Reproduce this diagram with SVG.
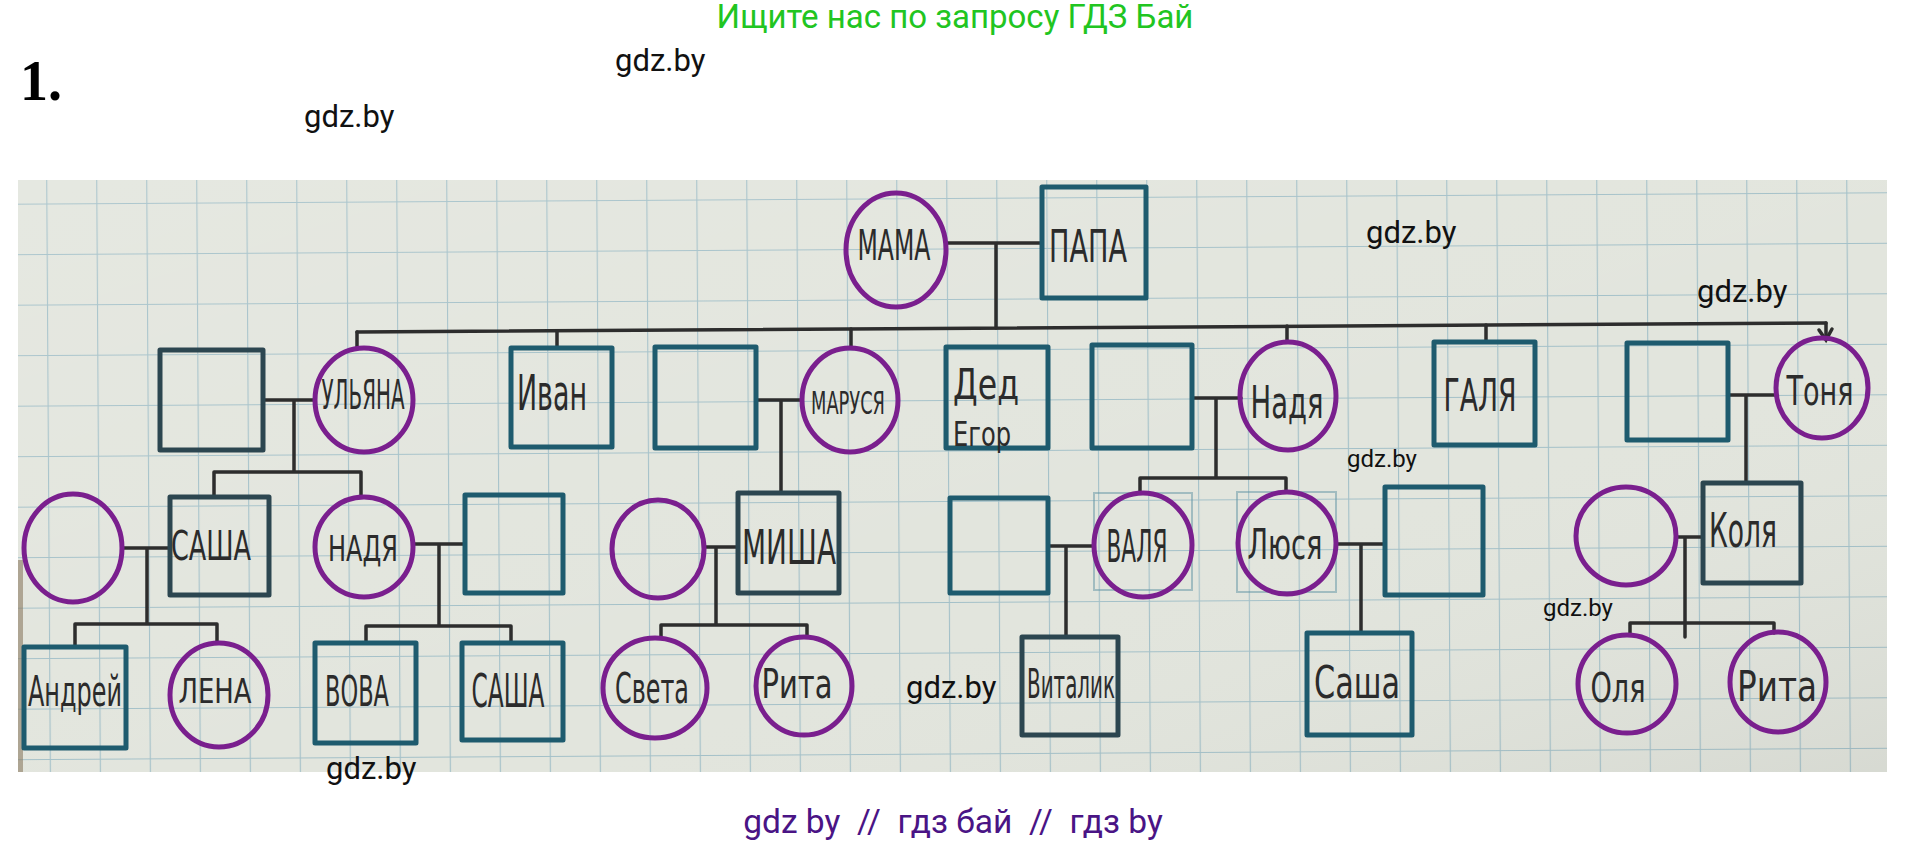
<svg xmlns="http://www.w3.org/2000/svg" width="1910" height="844" viewBox="0 0 1910 844">
<defs>
<pattern id="grid" x="48" y="198" width="50" height="50.5" patternUnits="userSpaceOnUse" patternTransform="rotate(-0.35 950 475)">
<rect width="50" height="50.5" fill="#e2e5dd"/>
<path d="M0 0V50.5M0 0H50" stroke="#a3c0c8" stroke-width="2.2" fill="none"/>
</pattern>
<linearGradient id="shade" x1="0" y1="0" x2="1" y2="1">
<stop offset="0" stop-color="#ffffff" stop-opacity="0.12"/>
<stop offset="0.6" stop-color="#ffffff" stop-opacity="0"/>
<stop offset="1" stop-color="#000000" stop-opacity="0.05"/>
</linearGradient>
</defs>
<style>
.sq{fill:none;stroke:#1e5b6e;stroke-width:5;stroke-linejoin:round}
.sqd{fill:none;stroke:#2c4650;stroke-width:5;stroke-linejoin:round}
.sqf{fill:none;stroke:#5f93a3;stroke-width:2;opacity:0.5}
.ci{fill:none;stroke:#7a1f8e;stroke-width:5}
.ln{fill:none;stroke:#2d2d2d;stroke-width:3.5;stroke-linecap:round}
.hw{font-family:"Liberation Sans Narrow","DejaVu Sans Condensed","Liberation Sans",sans-serif;fill:#2b2b2b;text-anchor:middle}
.wm{font-family:Roboto,"Liberation Sans",sans-serif;fill:#111111}
</style>
<rect width="1910" height="844" fill="#ffffff"/>
<text x="955" y="28" font-family="Roboto,'Liberation Sans',sans-serif" font-size="33" fill="#21c521" text-anchor="middle">Ищите нас по запросу ГДЗ Бай</text>
<text x="20" y="100" font-family="'Liberation Serif',serif" font-weight="bold" font-size="56" fill="#000">1.</text>
<text class="wm" x="615" y="71" font-size="31">gdz.by</text>
<text class="wm" x="304" y="127" font-size="31">gdz.by</text>

<g id="paper">
<rect x="18" y="180" width="1869" height="592" fill="url(#grid)"/>
<rect x="18" y="180" width="1869" height="592" fill="url(#shade)"/>
<rect x="18" y="560" width="5" height="212" fill="#8a7a60" opacity="0.6"/>
</g>

<g id="connectors">
<path class="ln" d="M946 243H1042M996 243V328"/>
<path class="ln" d="M357 332L1826 323"/>
<path class="ln" d="M357 332V349M557 331V348M851 329V348M1287 326V342M1486 325V342M1826 323V338"/>
<path class="ln" d="M1819 330L1826 340L1832 329" stroke-width="2.5"/>
<path class="ln" d="M263 400H315M294 400V472M214 472H361M214 472V497M361 472V497"/>
<path class="ln" d="M756 400H802M781 400V493"/>
<path class="ln" d="M1192 398H1241M1216 398V478M1140 478H1286M1140 478V493M1286 478V492"/>
<path class="ln" d="M1728 395H1777M1746 395V483"/>
<path class="ln" d="M122 548H170M147 548V624M75 624H217M75 624V647M217 624V643"/>
<path class="ln" d="M413 544H465M439 544V626M366 626H511M366 626V643M511 626V643"/>
<path class="ln" d="M704 547H738M716 547V625M661 625H807M661 625V638M807 625V637"/>
<path class="ln" d="M1048 546H1094M1066 546V637"/>
<path class="ln" d="M1336 544H1385M1361 544V633"/>
<path class="ln" d="M1676 537H1703M1685 537V637M1630 623H1774M1630 623V635M1774 623V633"/>
</g>

<g id="n-mama"><ellipse class="ci" cx="896" cy="250" rx="50" ry="57"/><text class="hw" x="894" y="260" font-size="42" textLength="73" lengthAdjust="spacingAndGlyphs">МАМА</text></g>
<g id="n-papa"><rect class="sq" x="1042" y="187" width="104" height="111"/><text class="hw" x="1088" y="262" font-size="44" textLength="78" lengthAdjust="spacingAndGlyphs">ПАПА</text></g>

<g id="n-husband-ulyana"><rect class="sqd" x="160" y="350" width="103" height="100"/></g>
<g id="n-ulyana"><ellipse class="ci" cx="364" cy="400" rx="49" ry="52"/><text class="hw" x="363" y="409" font-size="40" textLength="83" lengthAdjust="spacingAndGlyphs">УЛЬЯНА</text></g>
<g id="n-ivan"><rect class="sq" x="511" y="348" width="101" height="99"/><text class="hw" x="552" y="410" font-size="50" textLength="70" lengthAdjust="spacingAndGlyphs">Иван</text></g>
<g id="n-husband-marusya"><rect class="sq" x="655" y="347" width="101" height="101"/></g>
<g id="n-marusya"><ellipse class="ci" cx="850" cy="400" rx="48" ry="52"/><text class="hw" x="848" y="414" font-size="32" textLength="74" lengthAdjust="spacingAndGlyphs">МАРУСЯ</text></g>
<g id="n-ded-egor"><rect class="sq" x="946" y="347" width="102" height="101"/><text class="hw" x="986" y="399" font-size="42" textLength="66" lengthAdjust="spacingAndGlyphs">Дед</text><text class="hw" x="982" y="446" font-size="34" textLength="58" lengthAdjust="spacingAndGlyphs">Егор</text></g>
<g id="n-husband-nadya"><rect class="sq" x="1092" y="345" width="100" height="103"/></g>
<g id="n-nadya-top"><ellipse class="ci" cx="1288" cy="396" rx="48" ry="54"/><text class="hw" x="1287" y="418" font-size="44" textLength="73" lengthAdjust="spacingAndGlyphs">Надя</text></g>
<g id="n-galya"><rect class="sq" x="1434" y="342" width="101" height="103"/><text class="hw" x="1480" y="411" font-size="44" textLength="73" lengthAdjust="spacingAndGlyphs">ГАЛЯ</text></g>
<g id="n-husband-tonya"><rect class="sq" x="1627" y="343" width="101" height="97"/></g>
<g id="n-tonya"><ellipse class="ci" cx="1822" cy="388" rx="46" ry="50"/><text class="hw" x="1820" y="405" font-size="40" textLength="67" lengthAdjust="spacingAndGlyphs">Тоня</text></g>

<g id="n-wife-sasha"><ellipse class="ci" cx="73" cy="548" rx="49" ry="54"/></g>
<g id="n-sasha1"><rect class="sqd" x="170" y="497" width="99" height="98"/><text class="hw" x="211" y="560" font-size="40" textLength="80" lengthAdjust="spacingAndGlyphs">САША</text></g>
<g id="n-nadya2"><ellipse class="ci" cx="364" cy="547" rx="49" ry="50"/><text class="hw" x="363" y="561" font-size="36" textLength="70" lengthAdjust="spacingAndGlyphs">НАДЯ</text></g>
<g id="n-husband-nadya2"><rect class="sq" x="465" y="495" width="98" height="98"/></g>
<g id="n-wife-misha"><ellipse class="ci" cx="658" cy="549" rx="46" ry="49"/></g>
<g id="n-misha"><rect class="sqd" x="738" y="493" width="101" height="100"/><text class="hw" x="789" y="564" font-size="48" textLength="94" lengthAdjust="spacingAndGlyphs">МИША</text></g>
<g id="n-husband-valya"><rect class="sq" x="950" y="498" width="98" height="95"/></g>
<g id="n-valya"><rect class="sqf" x="1094" y="493" width="98" height="97"/><ellipse class="ci" cx="1143" cy="545" rx="49" ry="52"/><text class="hw" x="1137" y="562" font-size="44" textLength="61" lengthAdjust="spacingAndGlyphs">ВАЛЯ</text></g>
<g id="n-lyusya"><rect class="sqf" x="1237" y="492" width="99" height="100"/><ellipse class="ci" cx="1287" cy="543" rx="49" ry="51"/><text class="hw" x="1285" y="559" font-size="42" textLength="75" lengthAdjust="spacingAndGlyphs">Люся</text></g>
<g id="n-husband-lyusya"><rect class="sq" x="1385" y="487" width="98" height="108"/></g>
<g id="n-wife-kolya"><ellipse class="ci" cx="1626" cy="536" rx="50" ry="49"/></g>
<g id="n-kolya"><rect class="sqd" x="1703" y="483" width="98" height="100"/><text class="hw" x="1743" y="547" font-size="48" textLength="68" lengthAdjust="spacingAndGlyphs">Коля</text></g>

<g id="n-andrey"><rect class="sq" x="24" y="647" width="102" height="101"/><text class="hw" x="75" y="706" font-size="42" textLength="94" lengthAdjust="spacingAndGlyphs">Андрей</text></g>
<g id="n-lena"><ellipse class="ci" cx="219" cy="695" rx="49" ry="52"/><text class="hw" x="215" y="703" font-size="34" textLength="73" lengthAdjust="spacingAndGlyphs">ЛЕНА</text></g>
<g id="n-vova"><rect class="sq" x="315" y="643" width="101" height="100"/><text class="hw" x="357" y="706" font-size="42" textLength="64" lengthAdjust="spacingAndGlyphs">ВОВА</text></g>
<g id="n-sasha2"><rect class="sq" x="462" y="643" width="101" height="97"/><text class="hw" x="508" y="707" font-size="46" textLength="73" lengthAdjust="spacingAndGlyphs">САША</text></g>
<g id="n-sveta"><ellipse class="ci" cx="655" cy="688" rx="52" ry="50"/><text class="hw" x="652" y="703" font-size="42" textLength="74" lengthAdjust="spacingAndGlyphs">Света</text></g>
<g id="n-rita1"><ellipse class="ci" cx="804" cy="686" rx="48" ry="49"/><text class="hw" x="797" y="698" font-size="40" textLength="71" lengthAdjust="spacingAndGlyphs">Рита</text></g>
<g id="n-vitalik"><rect class="sqd" x="1022" y="637" width="96" height="98"/><text class="hw" x="1071" y="698" font-size="40" textLength="88" lengthAdjust="spacingAndGlyphs">Виталик</text></g>
<g id="n-sasha3"><rect class="sq" x="1307" y="633" width="105" height="102"/><text class="hw" x="1357" y="698" font-size="44" textLength="86" lengthAdjust="spacingAndGlyphs">Саша</text></g>
<g id="n-olya"><ellipse class="ci" cx="1627" cy="684" rx="49" ry="49"/><text class="hw" x="1618" y="702" font-size="40" textLength="55" lengthAdjust="spacingAndGlyphs">Оля</text></g>
<g id="n-rita2"><ellipse class="ci" cx="1778" cy="682" rx="48" ry="50"/><text class="hw" x="1777" y="701" font-size="42" textLength="80" lengthAdjust="spacingAndGlyphs">Рита</text></g>

<g id="watermarks">
<text class="wm" x="1366" y="243" font-size="31">gdz.by</text>
<text class="wm" x="1697" y="302" font-size="31">gdz.by</text>
<text class="wm" x="1347" y="467" font-size="24">gdz.by</text>
<text class="wm" x="1543" y="616" font-size="24">gdz.by</text>
<text class="wm" x="906" y="698" font-size="31">gdz.by</text>
<text class="wm" x="326" y="779" font-size="31">gdz.by</text>
</g>
<text x="953" y="833" font-family="Roboto,'Liberation Sans',sans-serif" font-size="33.5" fill="#4a1485" text-anchor="middle" xml:space="preserve">gdz by  //  гдз бай  //  гдз by</text>
</svg>
